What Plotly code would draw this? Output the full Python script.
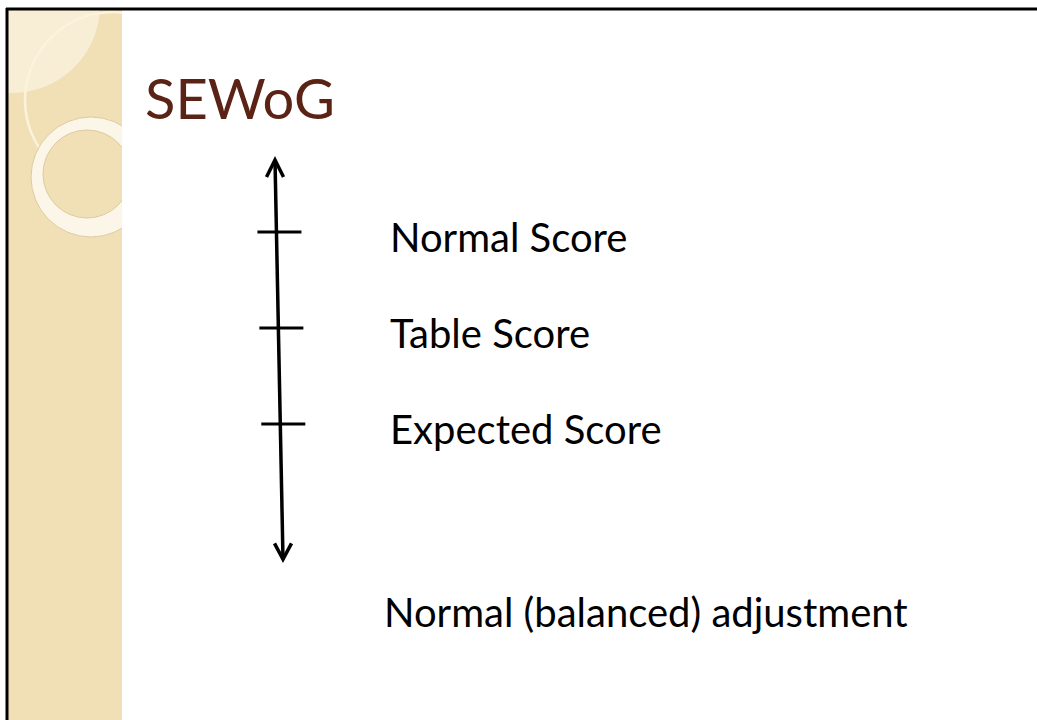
import plotly.graph_objects as go

# ---- content ----
title_text = "SEWoG"
score_labels = ["Normal Score", "Table Score", "Expected Score"]
score_levels = [3, 2, 1]          # position of each score on the vertical scale
arrow_top_level = 3.75
arrow_bottom_level = -0.41
footer_text = "Normal (balanced) adjustment"
footer_level = -1.0

# ---- style / geometry ----
W, H = 1037, 720
PX_PER_LEVEL = 96.0
Y_MAX = 3 + 232 / PX_PER_LEVEL
Y_MIN = Y_MAX - H / PX_PER_LEVEL
FONT = "Lato"
TITLE_COLOR = "#5A2315"
STRIP_COLOR = "#F1E0B5"
STRIP_X0, STRIP_X1 = 8, 122

def lv(px):   # pixel distance -> level units
    return px / PX_PER_LEVEL

def at(py):   # pixel row from the top -> level coordinate
    return Y_MAX - py / PX_PER_LEVEL

def line_x(level):
    # the arrow shaft leans slightly to the right as it goes down
    t = (arrow_top_level - level) / (arrow_top_level - arrow_bottom_level)
    return 275 + t * (283 - 275)

def circle(cx, cy, r, **kw):
    return dict(type="circle", xref="x", yref="y", x0=cx - r, x1=cx + r,
                y0=at(cy + r), y1=at(cy - r), **kw)

fig = go.Figure()
fig.add_trace(go.Scatter(x=[line_x(l) for l in score_levels], y=score_levels,
                         mode="markers", marker=dict(opacity=0), hoverinfo="skip",
                         showlegend=False))

shapes = []
# ---- decorative left strip ----
shapes.append(dict(type="rect", xref="x", yref="y", x0=STRIP_X0, x1=STRIP_X1,
                   y0=at(H + 5), y1=at(10), fillcolor=STRIP_COLOR, line=dict(width=0)))
shapes.append(circle(12, 5, 88, fillcolor="#F8EDD5", line=dict(width=0)))
shapes.append(circle(113, 100, 88, fillcolor="rgba(0,0,0,0)",
                     line=dict(color="#FCF3DC", width=2.5)))
shapes.append(circle(91, 177, 60, fillcolor="#FCF6E8", line=dict(color="#DCCBA2", width=1)))
shapes.append(circle(87, 174, 44, fillcolor=STRIP_COLOR, line=dict(color="#DCCBA2", width=1)))
# white masks keep the decorations inside the strip
shapes.append(dict(type="rect", xref="x", yref="y", x0=STRIP_X1, x1=230,
                   y0=at(230), y1=at(-5), fillcolor="white", line=dict(width=0)))
shapes.append(dict(type="rect", xref="x", yref="y", x0=-5, x1=STRIP_X0,
                   y0=at(H + 5), y1=at(-5), fillcolor="white", line=dict(width=0)))
shapes.append(dict(type="rect", xref="x", yref="y", x0=-5, x1=230,
                   y0=at(10), y1=at(-5), fillcolor="white", line=dict(width=0)))

# ---- slide border (top and left), drawn in the pixel-x / level-y axes ----
shapes.append(dict(type="line", xref="x", yref="y", x0=6, x1=W + 10,
                   y0=at(9), y1=at(9), line=dict(color="black", width=3)))
shapes.append(dict(type="line", xref="x", yref="y", x0=7, x1=7,
                   y0=at(8), y1=at(H + 10), line=dict(color="black", width=3)))

# ---- arrow ----
shapes.append(dict(type="line", xref="x", yref="y",
                   x0=line_x(arrow_top_level), y0=arrow_top_level,
                   x1=line_x(arrow_bottom_level), y1=arrow_bottom_level,
                   line=dict(color="black", width=3.5)))
tx, ty = line_x(arrow_top_level), arrow_top_level
shapes.append(dict(type="path", xref="x", yref="y",
                   path=f"M {tx-8.5},{ty-lv(17)} L {tx},{ty} L {tx+8.5},{ty-lv(17)}",
                   line=dict(color="black", width=3.5)))
bx, by = line_x(arrow_bottom_level), arrow_bottom_level
shapes.append(dict(type="path", xref="x", yref="y",
                   path=f"M {bx-8.5},{by+lv(16)} L {bx},{by} L {bx+8.5},{by+lv(16)}",
                   line=dict(color="black", width=3.5)))
for l in score_levels:
    cx = line_x(l)
    shapes.append(dict(type="line", xref="x", yref="y", x0=cx - 19, x1=cx + 25,
                       y0=l, y1=l, line=dict(color="black", width=3)))

annotations = []
annotations.append(dict(text=title_text, x=143, y=at(97), xref="x", yref="y",
                        xanchor="left", yanchor="middle", showarrow=False,
                        font=dict(family=FONT, size=56, color=TITLE_COLOR)))
for lab, l in zip(score_labels, score_levels):
    annotations.append(dict(text=lab, x=388, y=l, yshift=-5, xref="x", yref="y",
                            xanchor="left", yanchor="middle", showarrow=False,
                            font=dict(family=FONT, size=40, color="black")))
annotations.append(dict(text=footer_text, x=382, y=footer_level, yshift=4, xref="x", yref="y",
                        xanchor="left", yanchor="middle", showarrow=False,
                        font=dict(family=FONT, size=40, color="black")))

fig.update_layout(
    width=W, height=H, margin=dict(l=0, r=0, t=0, b=0),
    paper_bgcolor="white", plot_bgcolor="rgba(0,0,0,0)",
    showlegend=False, shapes=shapes, annotations=annotations,
    xaxis=dict(range=[0, W], visible=False, fixedrange=True),
    yaxis=dict(range=[Y_MIN, Y_MAX], visible=False, fixedrange=True),
)

fig.write_html("out.html", config={"displayModeBar": False},
               post_script=("document.body.style.margin='0';"
                            "document.body.style.overflow='hidden';"
                            "document.documentElement.style.overflow='hidden';"))
